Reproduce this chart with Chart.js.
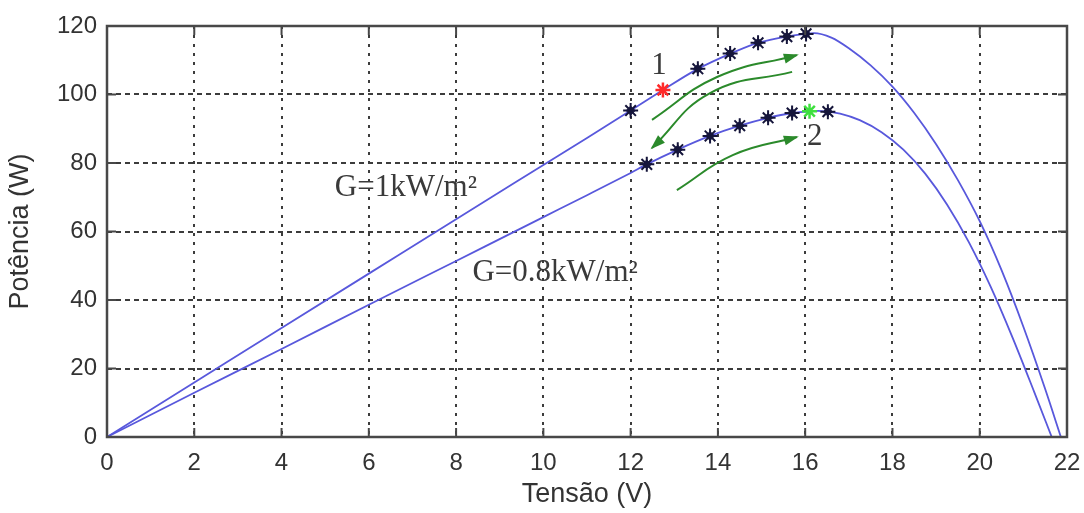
<!DOCTYPE html>
<html>
<head>
<meta charset="utf-8">
<script src="https://cdn.jsdelivr.net/npm/chart.js@4/dist/chart.umd.min.js"></script>
<style>
  html, body { margin: 0; padding: 0; background: #ffffff; }
  #wrap { width: 1084px; height: 513px; position: relative; }
</style>
</head>
<body>
<div id="wrap"><canvas id="c" width="1084" height="513"></canvas></div>
<script>
// ---- Data ----
const xTicks = [0, 2, 4, 6, 8, 10, 12, 14, 16, 18, 20, 22];
const yTicks = [0, 20, 40, 60, 80, 100, 120];

// G = 1 kW/m²
const voltage1 = [0, 2, 4, 6, 8, 10, 11, 12, 12.74, 13.5, 14.3, 14.9, 15.6, 16.0, 16.2, 16.6, 17.0, 17.5, 18.0, 18.5, 19.0, 19.5, 20.0, 20.5, 21.0, 21.5, 21.86];
const power1   = [0, 15.9, 31.8, 47.7, 63.6, 79.4, 87.3, 95.3, 101.3, 107.2, 112.0, 115.0, 117.0, 117.7, 117.9, 116.6, 113.5, 108.5, 102.3, 94.6, 85.5, 75.0, 63.0, 48.7, 32.2, 14.0, 0];

// G = 0.8 kW/m²
const voltage2 = [0, 2, 4, 6, 8, 10, 11, 12, 12.37, 13.08, 13.82, 14.5, 15.15, 15.7, 16.1, 16.3, 16.8, 17.25, 17.75, 18.25, 18.75, 19.25, 19.75, 20.25, 20.75, 21.25, 21.65];
const power2   = [0, 12.9, 25.7, 38.6, 51.4, 64.2, 70.6, 77.1, 79.6, 83.9, 87.9, 90.9, 93.2, 94.6, 95.1, 95.2, 94.45, 92.5, 89.0, 83.9, 76.9, 67.9, 56.9, 43.9, 29.1, 13.1, 0];

// MPPT operating points (black asterisks)
const markV1 = [12.0, 13.54, 14.28, 14.92, 15.58, 16.02];
const markP1 = [95.3, 107.5, 112.0, 115.1, 116.9, 117.7];
const markV2 = [12.37, 13.08, 13.82, 14.5, 15.15, 15.7, 16.52];
const markP2 = [79.6, 83.9, 87.9, 90.9, 93.2, 94.6, 95.0];

// highlighted points
const point1V = [12.74], point1P = [101.3];   // red, "1"
const point2V = [16.1],  point2P = [95.1];    // green, "2"

// green arrows (start, middle, end)
const arrowUpV   = [12.49, 13.98, 15.81], arrowUpP   = [92.6, 105.1, 111.5];
const arrowBackV = [15.7, 13.82, 12.49],  arrowBackP = [106.6, 100.4, 84.4];
const arrowLowV  = [13.06, 14.34, 15.81], arrowLowP  = [72.1, 82.3, 87.6];

// text labels
const labelTexts = ['G=1kW/m²', 'G=0.8kW/m²', '1', '2'];
const labelV = [6.85, 10.27, 12.65, 16.22];
const labelP = [72.7, 47.9, 108.3, 87.6];

const zip = (xs, ys) => xs.map((x, i) => ({ x: x, y: ys[i] }));

const curveColor = '#5858dc';
const arrowColor = '#2b8a2b';
const textColor = '#333333';

const arrowIdx = [];

const datasets = [
  { data: zip(voltage1, power1), showLine: true, borderColor: curveColor, borderWidth: 1.8, pointRadius: 0, cubicInterpolationMode: 'monotone', order: 5 },
  { data: zip(voltage2, power2), showLine: true, borderColor: curveColor, borderWidth: 1.8, pointRadius: 0, cubicInterpolationMode: 'monotone', order: 5 },
  { data: zip(markV1, markP1), showLine: false, pointStyle: 'rectRot', pointRadius: 4.5, backgroundColor: '#1c1c4a', borderColor: '#1c1c4a', borderWidth: 1, order: 3 },
  { data: zip(markV2, markP2), showLine: false, pointStyle: 'rectRot', pointRadius: 4.5, backgroundColor: '#1c1c4a', borderColor: '#1c1c4a', borderWidth: 1, order: 3 },
  { data: zip(markV1, markP1), showLine: false, pointStyle: 'star', pointRadius: 7.5, backgroundColor: '#111', borderColor: '#15153a', borderWidth: 2, order: 2 },
  { data: zip(markV2, markP2), showLine: false, pointStyle: 'star', pointRadius: 7.5, backgroundColor: '#111', borderColor: '#15153a', borderWidth: 2, order: 2 },
  { data: zip(point1V, point1P), showLine: false, pointStyle: 'star', pointRadius: 7.5, borderColor: '#ff2a2a', backgroundColor: '#ff2a2a', borderWidth: 2.5, order: 1 },
  { data: zip(point2V, point2P), showLine: false, pointStyle: 'star', pointRadius: 7.5, borderColor: '#3ee03e', backgroundColor: '#3ee03e', borderWidth: 2.5, order: 1 },
];
[[arrowUpV, arrowUpP], [arrowBackV, arrowBackP], [arrowLowV, arrowLowP]].forEach(([v, p]) => {
  arrowIdx.push(datasets.length);
  datasets.push({ data: zip(v, p), showLine: true, borderColor: arrowColor, borderWidth: 2, pointRadius: 0, tension: 0.45, order: 4 });
});

const frame = {
  id: 'frame',
  afterDatasetsDraw(chart) {
    const { ctx, chartArea: a, scales } = chart;
    ctx.save();
    // arrowheads
    arrowIdx.forEach(i => {
      const meta = chart.getDatasetMeta(i);
      const pts = meta.data;
      const end = pts[pts.length - 1];
      const cx = end.cp1x !== undefined ? end.cp1x : pts[pts.length - 2].x;
      const cy = end.cp1y !== undefined ? end.cp1y : pts[pts.length - 2].y;
      const ang = Math.atan2(end.y - cy, end.x - cx);
      const L = 13, W = 5;
      ctx.fillStyle = arrowColor;
      ctx.beginPath();
      ctx.moveTo(end.x + Math.cos(ang) * 2, end.y + Math.sin(ang) * 2);
      ctx.lineTo(end.x - Math.cos(ang) * L - Math.sin(ang) * W, end.y - Math.sin(ang) * L + Math.cos(ang) * W);
      ctx.lineTo(end.x - Math.cos(ang) * L + Math.sin(ang) * W, end.y - Math.sin(ang) * L - Math.cos(ang) * W);
      ctx.closePath();
      ctx.fill();
    });
    // text labels
    ctx.fillStyle = '#3a3a3a';
    ctx.font = '31px "Liberation Serif", "DejaVu Serif", serif';
    ctx.textAlign = 'center';
    ctx.textBaseline = 'middle';
    labelTexts.forEach((t, i) => {
      ctx.fillText(t, scales.x.getPixelForValue(labelV[i]), scales.y.getPixelForValue(labelP[i]));
    });
    // axes box
    ctx.strokeStyle = '#484848';
    ctx.lineWidth = 2.5;
    ctx.strokeRect(a.left, a.top, a.right - a.left, a.bottom - a.top);
    // inward ticks
    ctx.lineWidth = 2;
    ctx.beginPath();
    xTicks.forEach(v => {
      const px = scales.x.getPixelForValue(v);
      ctx.moveTo(px, a.bottom); ctx.lineTo(px, a.bottom - 9);
      ctx.moveTo(px, a.top); ctx.lineTo(px, a.top + 9);
    });
    yTicks.forEach(v => {
      const py = scales.y.getPixelForValue(v);
      ctx.moveTo(a.left, py); ctx.lineTo(a.left + 9, py);
      ctx.moveTo(a.right, py); ctx.lineTo(a.right - 9, py);
    });
    ctx.stroke();
    ctx.restore();
  }
};

new Chart(document.getElementById('c'), {
  type: 'scatter',
  data: { datasets: datasets },
  plugins: [frame],
  options: {
    responsive: false,
    animation: false,
    layout: { padding: { left: 0, top: 26, right: 17, bottom: 0 } },
    plugins: { legend: { display: false }, tooltip: { enabled: false } },
    scales: {
      x: {
        type: 'linear', min: 0, max: 22,
        afterBuildTicks: s => { s.ticks = xTicks.map(v => ({ value: v })); },
        afterFit: s => { s.height = 76; s.paddingLeft = 0; s.paddingRight = 0; },
        ticks: { padding: 12, color: textColor, font: { family: '"Liberation Sans", Arial, sans-serif', size: 24 }, maxRotation: 0 },
        grid: { color: '#3c3c3c', lineWidth: 2, drawTicks: false },
        border: { display: false, dash: [3, 6] },
        title: { display: true, text: 'Tensão (V)', color: textColor, font: { family: '"Liberation Sans", Arial, sans-serif', size: 27 }, padding: { top: 0, bottom: 2 } }
      },
      y: {
        type: 'linear', min: 0, max: 120,
        afterBuildTicks: s => { s.ticks = yTicks.map(v => ({ value: v })); },
        afterFit: s => { s.width = 107; s.paddingTop = 0; s.paddingBottom = 0; },
        ticks: { padding: 10, color: textColor, font: { family: '"Liberation Sans", Arial, sans-serif', size: 24 } },
        grid: { color: '#3c3c3c', lineWidth: 2, drawTicks: false },
        border: { display: false, dash: [5, 4] },
        title: { display: true, text: 'Potência (W)', color: textColor, font: { family: '"Liberation Sans", Arial, sans-serif', size: 27 }, padding: { top: 4, bottom: 0 } }
      }
    }
  }
});
</script>
</body>
</html>
